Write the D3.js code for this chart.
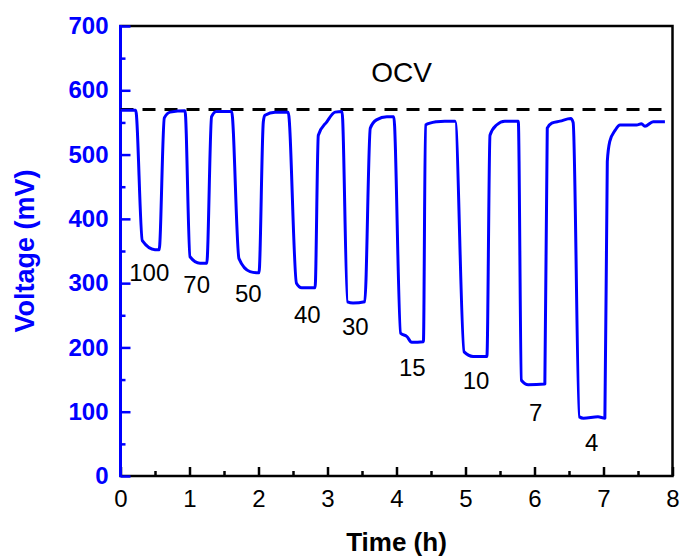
<!DOCTYPE html>
<html>
<head>
<meta charset="utf-8">
<script src="https://cdn.jsdelivr.net/npm/d3@7"></script>
<style>
  body { margin: 0; background: #fff; }
  svg { display: block; font-family: "Liberation Sans", Arial, sans-serif; }
</style>
</head>
<body>
<div id="chart"></div>
<script>
// time (h) and voltage (mV)
const timeH = [0, 0.22, 0.316, 0.50, 0.56, 0.635, 0.72, 0.935,
  1.007, 1.152, 1.25, 1.32, 1.39, 1.61, 1.717, 1.877, 2.007,
  2.07, 2.094, 2.24, 2.43, 2.55, 2.626, 2.82, 2.867, 2.99, 3.11, 3.21,
  3.29, 3.37, 3.54, 3.62, 3.71, 3.86, 3.96, 4.06, 4.15, 4.22, 4.39,
  4.42, 4.58, 4.70, 4.85, 4.98, 5.11, 5.31, 5.355, 5.45, 5.57, 5.765,
  5.81, 5.91, 6.15, 6.185, 6.25, 6.37, 6.525, 6.56, 6.65, 6.71, 6.92, 7.02,
  7.055, 7.09, 7.17, 7.24, 7.48, 7.55, 7.6, 7.72, 7.89];
const voltage = [569, 569, 366, 352, 352, 557, 566, 568,
  341, 331, 331, 559, 567, 567, 338, 318, 316,
  551, 561, 566, 566, 300, 293, 293, 530, 551, 566, 567,
  271, 269, 271, 541, 554, 559, 559, 222, 217, 208, 209,
  546, 551, 552, 552, 193, 186, 186, 530, 546, 552, 552,
  149, 142, 143, 541, 549, 552, 556, 550, 92, 90, 92, 90,
  489, 520, 538, 546, 546, 548, 544, 551, 551];
const ocv = 570;

// labels of each step, placed in data units
const stepLabels = ["100", "70", "50", "40", "30", "15", "10", "7", "4"];
const stepLabelT = [0.417, 1.104, 1.852, 2.707, 3.403, 4.229, 5.152, 6.017, 6.829];
const stepLabelV = [304, 285, 271, 238, 219, 155, 136, 85, 39];

const xTicks = [0, 1, 2, 3, 4, 5, 6, 7, 8];
const yTicks = [0, 100, 200, 300, 400, 500, 600, 700];

const margin = { top: 26, right: 7.5, bottom: 81, left: 120.5 };
const width = 680 - margin.left - margin.right;
const height = 557 - margin.top - margin.bottom;

const svg = d3.select("#chart").append("svg")
  .attr("width", 680)
  .attr("height", 557);

const g = svg.append("g")
  .attr("transform", `translate(${margin.left}, ${margin.top})`);

const x = d3.scaleLinear().domain([0, 8]).range([0, width]);
const y = d3.scaleLinear().domain([0, 700]).range([height, 0]);

// frame
g.append("rect")
  .attr("width", width).attr("height", height)
  .attr("fill", "none").attr("stroke", "#000").attr("stroke-width", 2.5);

// x axis (ticks inward)
const xMinor = g.append("g").attr("transform", `translate(0, ${height})`)
  .call(d3.axisBottom(x).tickValues(d3.range(0.5, 8, 1)).tickSizeInner(-5).tickSizeOuter(0).tickFormat(""));
const xMajor = g.append("g").attr("transform", `translate(0, ${height})`)
  .call(d3.axisBottom(x).tickValues(xTicks).tickSizeInner(-9).tickSizeOuter(0).tickPadding(14).tickFormat(d3.format("d")));
[xMinor, xMajor].forEach(a => {
  a.select(".domain").remove();
  a.selectAll("line").attr("stroke", "#000").attr("stroke-width", 2.5);
});
xMajor.selectAll("text")
  .attr("fill", "#000").style("font-size", "24px");

// y axis, blue
const yMinor = g.append("g")
  .call(d3.axisLeft(y).tickValues(d3.range(50, 700, 100)).tickSizeInner(-5).tickSizeOuter(0).tickFormat(""));
const yMajor = g.append("g")
  .call(d3.axisLeft(y).tickValues(yTicks).tickSizeInner(-10).tickSizeOuter(0).tickPadding(12));
[yMinor, yMajor].forEach(a => {
  a.select(".domain").remove();
  a.selectAll("line").attr("stroke", "#0000ff").attr("stroke-width", 2.5);
});
yMajor.selectAll("text")
  .attr("fill", "#0000ff").style("font-size", "24px").style("font-weight", "bold");

g.append("line")
  .attr("x1", 0).attr("x2", 0).attr("y1", -1).attr("y2", height + 1)
  .attr("stroke", "#0000ff").attr("stroke-width", 3);

// OCV dashed line
g.append("line")
  .attr("x1", x(0)).attr("x2", x(7.9))
  .attr("y1", y(ocv)).attr("y2", y(ocv))
  .attr("stroke", "#000").attr("stroke-width", 3)
  .attr("stroke-dasharray", "13 9");

// voltage curve
const pts = timeH.map((t, i) => [t, voltage[i]]);
g.append("path")
  .datum(pts)
  .attr("fill", "none")
  .attr("stroke", "#0000ff")
  .attr("stroke-width", 3)
  .attr("stroke-linejoin", "round")
  .attr("d", d3.line().x(d => x(d[0])).y(d => y(d[1])).curve(d3.curveMonotoneX));

// step labels
g.selectAll(".step")
  .data(stepLabels)
  .enter()
  .append("text")
  .attr("class", "step")
  .attr("x", (d, i) => x(stepLabelT[i]))
  .attr("y", (d, i) => y(stepLabelV[i]))
  .attr("text-anchor", "middle")
  .style("font-size", "24px")
  .text(d => d);

g.append("text")
  .attr("x", x(4.075)).attr("y", y(613))
  .attr("text-anchor", "middle")
  .style("font-size", "28px")
  .text("OCV");

// axis titles
g.append("text")
  .text("Time (h)")
  .attr("x", width / 2)
  .attr("y", height + 75)
  .attr("text-anchor", "middle")
  .style("font-size", "26px")
  .style("font-weight", "bold");

g.append("text")
  .text("Voltage (mV)")
  .attr("transform", `translate(${34 - margin.left}, ${height / 2}) rotate(-90)`)
  .attr("text-anchor", "middle")
  .attr("fill", "#0000ff")
  .style("font-size", "27px")
  .style("font-weight", "bold");
</script>
</body>
</html>
